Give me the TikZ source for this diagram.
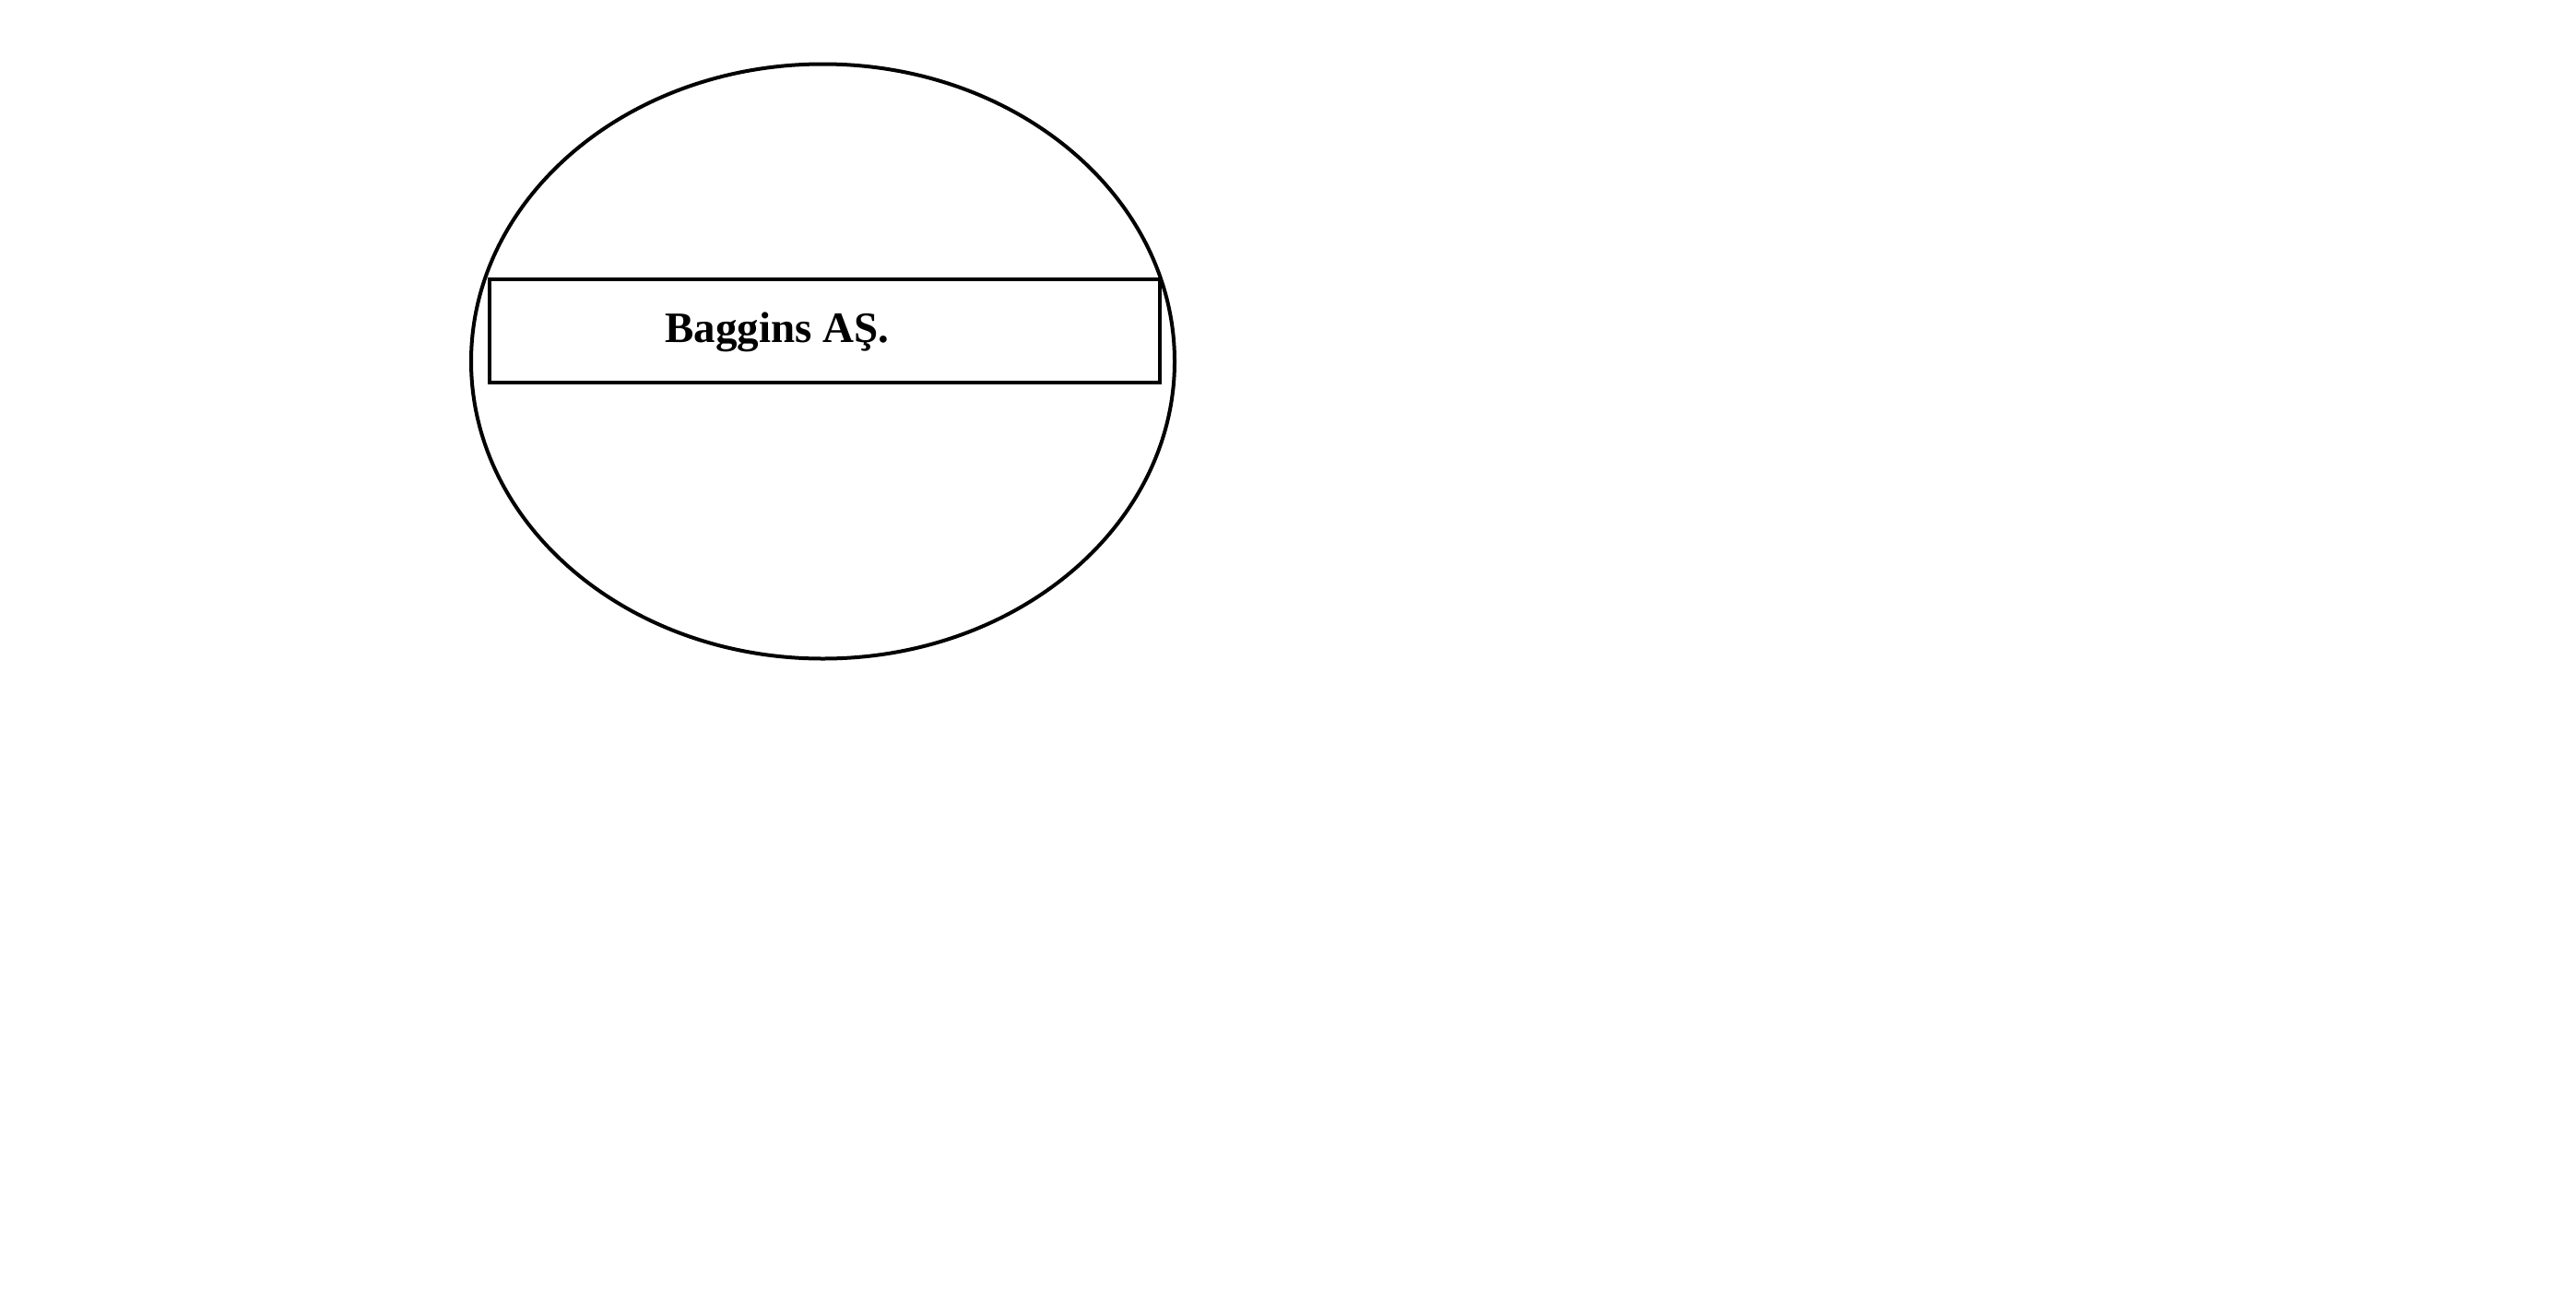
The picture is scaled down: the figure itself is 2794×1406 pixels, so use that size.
\documentclass[tikz,border=0pt]{standalone}
\usepackage{fontspec}
\setmainfont{Liberation Serif}
\usetikzlibrary{shapes.geometric}
\tikzset{
  ovalshape/.style={draw, ellipse, line width=4pt, inner sep=0pt, minimum width=763pt, minimum height=645pt},
  boxshape/.style={draw, rectangle, line width=4.5pt, inner sep=0pt, minimum width=727pt, minimum height=112pt},
  lbltext/.style={inner sep=0pt, font=\fontsize{47}{56}\selectfont\bfseries}
}
\begin{document}
\begin{tikzpicture}[x=1pt,y=-1pt]
\useasboundingbox[fill=white] (0,0) rectangle (2794,1406);
\node (oval) [ovalshape] at (892.5,392) {};
\node (box) [boxshape] at (894.5,359) {};
\node (lbl) [lbltext, anchor=base] at (843,371) {Baggins AŞ.};
\end{tikzpicture}
\end{document}
